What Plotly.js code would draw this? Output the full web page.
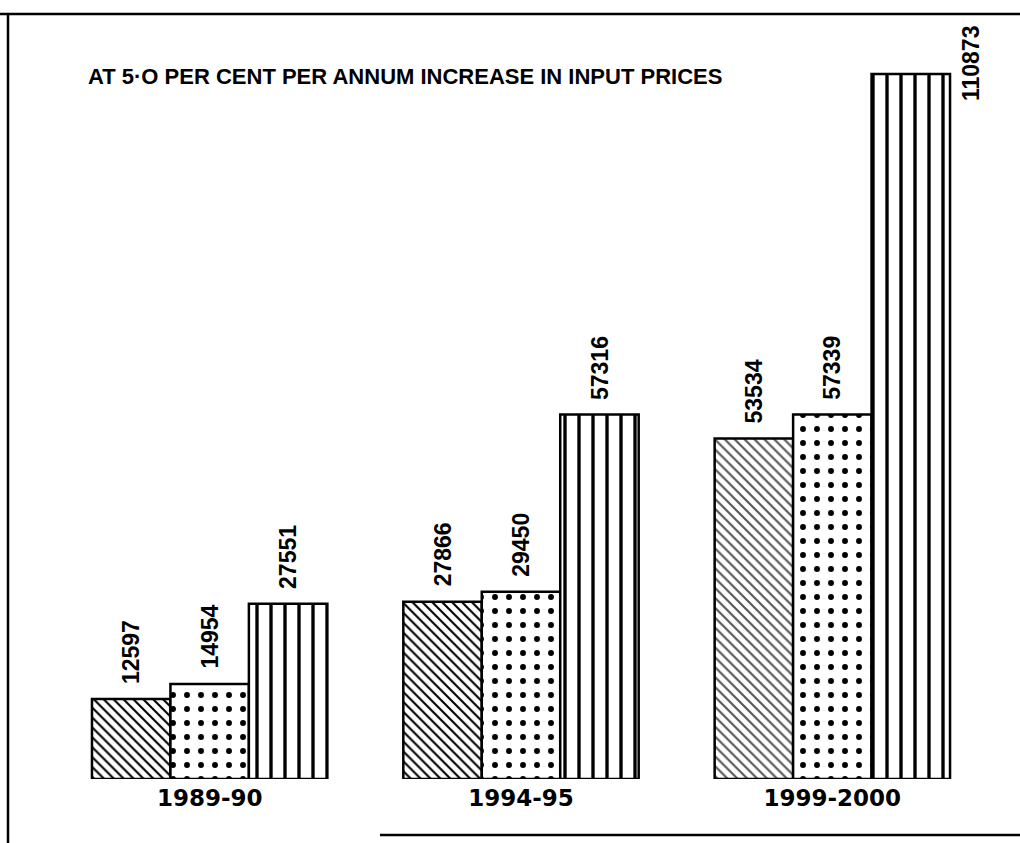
<!DOCTYPE html>
<html>
<head>
<meta charset="utf-8">
<script src="https://cdn.plot.ly/plotly-3.0.1.min.js"></script>
<style>html,body{margin:0;padding:0;background:#fff;}#chart{width:1020px;height:843px;}</style>
</head>
<body>
<div id="chart"></div>
<script>
const categories = ['1989-90', '1994-95', '1999-2000'];
const seriesHatched = [12597, 27866, 53534];
const seriesDotted  = [14954, 29450, 57339];
const seriesStriped = [27551, 57316, 110873];
const titleText = 'AT 5·O PER CENT PER ANNUM INCREASE IN INPUT PRICES';

const barW = 0.252;
const common = {type: 'bar', x: categories, hoverinfo: 'skip', showlegend: false};
const traces = [
  Object.assign({}, common, {y: seriesHatched, marker: {color: '#ffffff', line: {color: '#000', width: 2.5},
    pattern: {shape: '\\', size: 7, solidity: 0.3, fgcolor: ['#000', '#000', '#555'], bgcolor: '#fff'}}}),
  Object.assign({}, common, {y: seriesDotted, marker: {color: '#ffffff', line: {color: '#000', width: 2.5},
    pattern: {shape: '.', size: 14, solidity: 0.14, fgcolor: '#000', bgcolor: '#fff'}}}),
  Object.assign({}, common, {y: seriesStriped, marker: {color: '#ffffff', line: {color: '#000', width: 2.5},
    pattern: {shape: '|', size: 14, solidity: 0.24, fgcolor: '#000', bgcolor: '#fff'}}})
];

const allSeries = [seriesHatched, seriesDotted, seriesStriped];
const offsets = [-barW, 0, barW];
const labelFont = {family: 'Liberation Sans, Arial, sans-serif', size: 23, color: '#000', weight: 700};
const annotations = [];
allSeries.forEach((s, j) => {
  s.forEach((v, i) => {
    const isTallest = (j === 2 && i === 2);
    if (isTallest) {
      annotations.push({x: i + offsets[j] + barW / 2, y: v, xref: 'x', yref: 'y', text: String(v),
        textangle: -90, showarrow: false, xanchor: 'left', yanchor: 'middle', xshift: 6, yshift: 10, font: labelFont});
    } else {
      annotations.push({x: i + offsets[j], y: v, xref: 'x', yref: 'y', text: String(v),
        textangle: -90, showarrow: false, xanchor: 'center', yanchor: 'bottom', yshift: 13, font: labelFont});
    }
  });
});

const layout = {
  width: 1020, height: 843,
  margin: {l: 54, r: 32, t: 16, b: 64},
  paper_bgcolor: '#fff', plot_bgcolor: '#fff',
  barmode: 'group', bargap: 0.244, bargroupgap: 0,
  title: {text: titleText, x: 88 / 1020, xanchor: 'left', xref: 'container',
    y: 1 - 76 / 843, yanchor: 'middle', yref: 'container',
    font: {family: 'Liberation Sans, Arial, sans-serif', size: 22, color: '#000', weight: 700}},
  xaxis: {type: 'category', range: [-0.5, 2.5], showgrid: false, zeroline: false, showline: false,
    ticks: '', ticklabelstandoff: 3,
    tickfont: {family: 'DejaVu Sans, sans-serif', size: 23, color: '#000', weight: 700}},
  yaxis: {range: [0, 120000], visible: false, showgrid: false, zeroline: false},
  annotations: annotations,
  shapes: [
    {type: 'line', xref: 'paper', yref: 'paper', x0: -54 / 934, x1: 1.05, y0: 1 + 2 / 763, y1: 1 + 2 / 763, line: {color: '#000', width: 2.5}},
    {type: 'line', xref: 'paper', yref: 'paper', x0: -46 / 934, x1: -46 / 934, y0: 1 + 2 / 763, y1: -64 / 763, line: {color: '#000', width: 2.5}},
    {type: 'line', xref: 'paper', yref: 'paper', x0: 326 / 934, x1: 1.05, y0: -56 / 763, y1: -56 / 763, line: {color: '#000', width: 2.5}}
  ]
};

Plotly.newPlot('chart', traces, layout, {displayModeBar: false, staticPlot: true});
</script>
</body>
</html>
